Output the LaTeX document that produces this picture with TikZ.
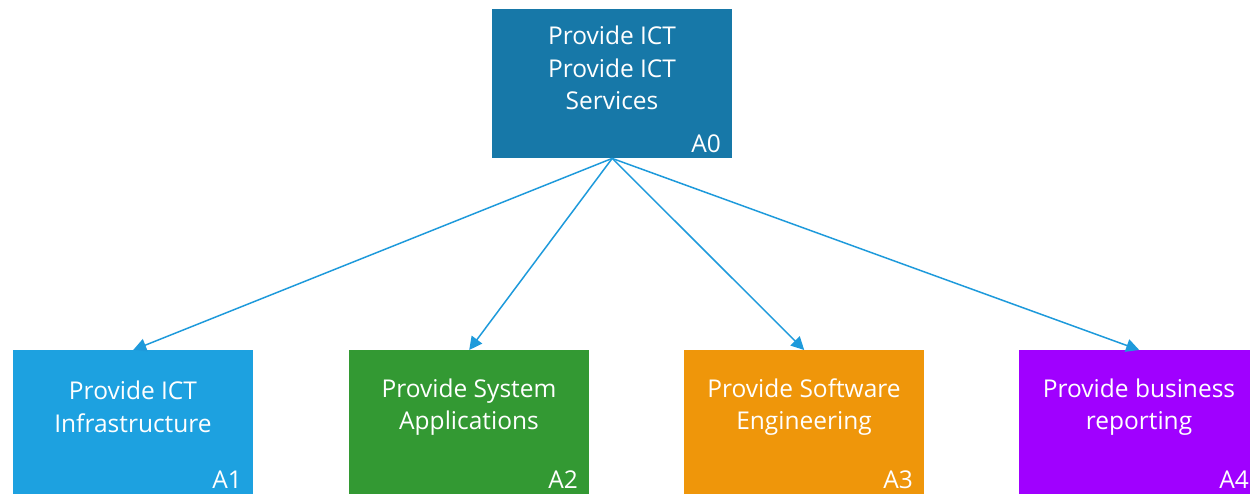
\documentclass[tikz,border=0pt]{standalone}
\usepackage{fontspec}
\setmainfont{Open Sans}
\usetikzlibrary{arrows.meta}
\definecolor{topblue}{HTML}{1778A8}
\definecolor{skyblue}{HTML}{1DA1E0}
\definecolor{leafgreen}{HTML}{339933}
\definecolor{amber}{HTML}{EF960A}
\definecolor{violet}{HTML}{A000FF}
\definecolor{linkblue}{HTML}{1E9ADB}
\tikzset{
  box/.style={fill=#1, draw=none, minimum width=240pt, anchor=north west, inner sep=0pt},
  boxtext/.style={text=white, font=\fontsize{24.5}{32.5}\selectfont, align=center},
  tag/.style={text=white, font=\fontsize{24.5}{28}\selectfont, anchor=south east, inner sep=0pt},
  link/.style={draw=linkblue, line width=1.5pt, -{Triangle[length=13pt,width=13pt]}}
}
\begin{document}
\begin{tikzpicture}[x=1pt,y=-1pt]
  \useasboundingbox (0,0) rectangle (1250,494);
  \clip (0,0) rectangle (1250,494);
  % boxes
  \node[box=topblue, minimum height=149pt] (a0) at (492,9) {};
  \node[box=skyblue, minimum height=144pt] (a1) at (13,350) {};
  \node[box=leafgreen, minimum height=144pt] (a2) at (349,350) {};
  \node[box=amber, minimum height=144pt] (a3) at (684,350) {};
  \node[box=violet, minimum height=144pt] (a4) at (1019,350) {};
  % titles
  \node[boxtext] (t0) at (612,68) {Provide ICT\\Provide ICT\\Services};
  \node[boxtext] (t1) at (133,407) {Provide ICT\\Infrastructure};
  \node[boxtext] (t2) at (469,407) {Provide System\\Applications};
  \node[boxtext] (t3) at (804,407) {Provide Software\\Engineering};
  \node[boxtext] (t4) at (1139,407) {Provide business\\reporting};
  % codes
  \node[tag] (c0) at (721,153) {A0};
  \node[tag] (c1) at (242,489) {A1};
  \node[tag] (c2) at (578,489) {A2};
  \node[tag] (c3) at (913,489) {A3};
  \node[tag] (c4) at (1249,489) {A4};
  % decomposition links
  \draw[link] (a0.south) -- (a1.north);
  \draw[link] (a0.south) -- (a2.north);
  \draw[link] (a0.south) -- (a3.north);
  \draw[link] (a0.south) -- (a4.north);
\end{tikzpicture}
\end{document}
